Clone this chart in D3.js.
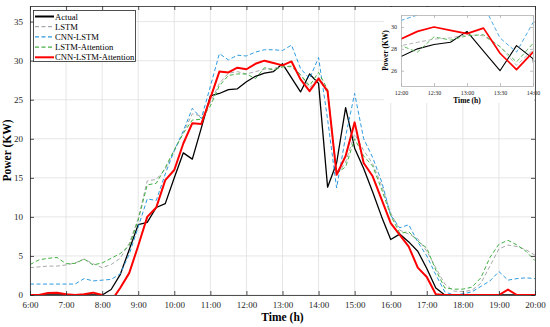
<!DOCTYPE html>
<html>
<head>
<meta charset="utf-8">
<script src="https://cdn.jsdelivr.net/npm/d3@7"></script>
<style>
body{margin:0;background:#fff;}
text{font-family:"Liberation Serif","Times New Roman",serif;}
</style>
</head>
<body>
<svg id="chart" width="550" height="327"></svg>
<script>
// 15 minute samples, 6:00 -> 20:00
var startHour = 6, stepHour = 0.25;

var actual = [0,0,0,0,0,0,0,0,0,0.7,2.6,5.8,9.0,9.3,11.2,11.7,15.0,18.2,17.4,21.4,
  25.5,25.8,26.3,26.4,27.3,28.0,28.4,28.6,29.6,27.8,26.0,28.3,27.1,13.8,16.9,24.0,18.8,16.2,13.2,10.0,
  7.1,7.8,6.8,5.6,3.4,0.9,0,0,0,0,0,0,0,0,0,0,0];
var lstm = [3.5,3.6,3.7,3.7,3.85,4.1,4.6,4.0,3.5,3.9,4.7,6.6,9.8,14.6,14.8,16.1,18.4,20.8,23.2,22.9,
  24.6,27.1,28.4,28.6,28.3,28.6,28.9,29.0,29.3,29.2,28.2,26.5,27.9,25.8,15.3,17.0,20.6,18.5,16.8,14.0,
  10.5,8.3,7.8,7.2,5.6,3.5,1.4,0.5,0.45,0.6,1.5,3.7,5.9,6.4,6.2,5.8,5.1];
var cnnLstm = [1.4,1.4,1.4,1.4,1.4,1.4,2.1,1.8,1.9,2.0,2.7,5.2,8.7,12.3,12.1,15.5,18.5,21.0,23.9,22.6,
  26.7,30.9,30.1,30.7,30.6,31.1,31.4,31.4,31.3,32.0,29.0,27.7,30.4,22.5,13.7,20.3,25.8,20.0,17.6,14.5,
  10.2,8.6,9.0,6.8,5.0,2.6,0.4,0,0.15,0.4,1.1,1.8,3.0,1.9,2.1,2.2,2.1];
var lstmAtt = [3.9,4.5,4.7,4.8,4.0,4.05,4.6,3.85,4.1,4.7,5.3,6.3,9.6,14.1,14.3,16.3,18.6,20.7,22.4,22.5,
  24.2,26.8,28.1,28.3,28.3,27.7,29.1,28.8,29.2,29.3,28.2,26.8,28.5,26.3,15.6,16.4,20.0,17.8,16.5,13.5,
  10.2,7.9,8.1,6.9,6.0,3.2,0.9,0.75,0.75,1.0,2.2,4.8,6.5,7.0,6.4,5.6,4.4];
var cnnLstmAtt = [0,0,0.25,0.3,0.1,0,0.1,0.3,0,-0.8,0.9,2.8,6.3,10.0,11.2,14.7,16.0,19.4,22.0,21.9,
  25.2,28.6,28.5,29.1,28.9,29.6,30.0,29.7,29.4,29.9,27.6,26.1,27.7,26.1,15.4,17.8,22.1,16.9,15.2,12.2,
  9.2,7.7,6.2,3.5,2.3,0.1,0,0,0,0,0,0,0,0.7,0,0,0];

var xTickLabels = ["6:00","7:00","8:00","9:00","10:00","11:00","12:00","13:00","14:00","15:00","16:00","17:00","18:00","19:00","20:00"];
var yTicks = [0,5,10,15,20,25,30,35];
var insetXTickLabels = ["12:00","12:30","13:00","13:30","14:00"];
var insetYTicks = [26,28,30];

var series = [
  {name:"Actual", values:actual, color:"#000000", width:1.3, dash:null},
  {name:"LSTM", values:lstm, color:"#a8a8a8", width:1, dash:"4,2.5"},
  {name:"CNN-LSTM", values:cnnLstm, color:"#2d9be0", width:1, dash:"4,2.5"},
  {name:"LSTM-Attention", values:lstmAtt, color:"#44b045", width:1, dash:"4,2.5"},
  {name:"CNN-LSTM-Attention", values:cnnLstmAtt, color:"#ff0000", width:2, dash:null}
];

function parseHour(s){ var p = s.split(":"); return +p[0] + (+p[1])/60; }

var svg = d3.select("#chart");
var L = 30, R = 535, T = 6, B = 295;

var x = d3.scaleLinear().domain([6, 20]).range([L, R]);
var y = d3.scaleLinear().domain([0, 37]).range([B, T]);

svg.append("defs").append("clipPath").attr("id","clipMain")
  .append("rect").attr("x",L).attr("y",T).attr("width",R-L).attr("height",B-T);

// grid
var grid = svg.append("g");
grid.selectAll("line.vx").data(xTickLabels).enter().append("line")
  .attr("x1",function(d){return x(parseHour(d));}).attr("x2",function(d){return x(parseHour(d));})
  .attr("y1",T).attr("y2",B).attr("stroke","#e0e0e0").attr("stroke-width",0.8);
grid.selectAll("line.hy").data(yTicks).enter().append("line")
  .attr("x1",L).attr("x2",R)
  .attr("y1",function(d){return y(d);}).attr("y2",function(d){return y(d);})
  .attr("stroke","#e0e0e0").attr("stroke-width",0.8);

function drawLines(g, xs, ys, clipId, scaleW){
  var line = d3.line()
    .x(function(d,i){return xs(startHour + i*stepHour);})
    .y(function(d){return ys(d);});
  g.append("g").attr("clip-path","url(#"+clipId+")")
    .selectAll("path").data(series).enter().append("path")
    .attr("d",function(d){return line(d.values);})
    .attr("fill","none")
    .attr("stroke",function(d){return d.color;})
    .attr("stroke-width",function(d){return d.width*scaleW;})
    .attr("stroke-dasharray",function(d){return d.dash;})
    .attr("stroke-linejoin","round");
}
drawLines(svg, x, y, "clipMain", 1);

// axes (box with inward ticks)
var axisColor = "#262626";
var xTickVals = xTickLabels.map(parseHour);
var axB = d3.axisBottom(x).tickValues(xTickVals).tickSizeInner(-4).tickSizeOuter(0)
  .tickFormat(function(d,i){return xTickLabels[i];}).tickPadding(7);
var axT = d3.axisTop(x).tickValues(xTickVals).tickSizeInner(-4).tickSizeOuter(0).tickFormat("");
var axLft = d3.axisLeft(y).tickValues(yTicks).tickSizeInner(-4).tickSizeOuter(0).tickPadding(7);
var axRgt = d3.axisRight(y).tickValues(yTicks).tickSizeInner(-4).tickSizeOuter(0).tickFormat("");

function styleAxis(g, fs){
  g.selectAll("path").attr("stroke",axisColor).attr("stroke-width",0.8);
  g.selectAll("line").attr("stroke",axisColor).attr("stroke-width",0.8);
  g.selectAll("text").attr("fill",axisColor).style("font-size",fs+"px")
    .style("font-family","'Liberation Serif','Times New Roman',serif");
}
styleAxis(svg.append("g").attr("transform","translate(0,"+B+")").call(axB), 9);
styleAxis(svg.append("g").attr("transform","translate(0,"+T+")").call(axT), 9);
styleAxis(svg.append("g").attr("transform","translate("+L+",0)").call(axLft), 9);
styleAxis(svg.append("g").attr("transform","translate("+R+",0)").call(axRgt), 9);

svg.append("text").attr("x",(L+R)/2).attr("y",321).attr("text-anchor","middle")
  .attr("font-weight","bold").attr("font-size",11.5).attr("fill","#000").text("Time (h)");
svg.append("text").attr("transform","translate(11,"+((T+B)/2)+") rotate(-90)")
  .attr("text-anchor","middle").attr("font-weight","bold").attr("font-size",11.5)
  .attr("fill","#000").text("Power (KW)");

// legend
var lg = svg.append("g");
lg.append("rect").attr("x",33.5).attr("y",10.5).attr("width",102).attr("height",51)
  .attr("fill","#fff").attr("stroke",axisColor).attr("stroke-width",0.8);
var row = lg.selectAll("g").data(series).enter().append("g")
  .attr("transform",function(d,i){return "translate(0,"+(16.5+i*10.2)+")";});
row.append("line").attr("x1",35).attr("x2",54).attr("y1",0).attr("y2",0)
  .attr("stroke",function(d){return d.color;})
  .attr("stroke-width",function(d){return d.dash ? 1.2 : 2;})
  .attr("stroke-dasharray",function(d){return d.dash;});
row.append("text").attr("x",55).attr("y",3).attr("font-size",8.6).attr("fill","#000")
  .text(function(d){return d.name;});

// inset
var iL = 401, iR = 533, iT = 15, iB = 86;
svg.append("rect").attr("x",384).attr("y",7).attr("width",150.5).attr("height",96).attr("fill","#fff");
var xi = d3.scaleLinear().domain([12, 14]).range([iL, iR]);
var yi = d3.scaleLinear().domain([24.6, 31.1]).range([iB, iT]);
svg.select("defs").append("clipPath").attr("id","clipInset")
  .append("rect").attr("x",iL).attr("y",iT).attr("width",iR-iL).attr("height",iB-iT);
drawLines(svg, xi, yi, "clipInset", 0.85);

var ixVals = insetXTickLabels.map(parseHour);
var iaxB = d3.axisBottom(xi).tickValues(ixVals).tickSizeInner(-3).tickSizeOuter(0)
  .tickFormat(function(d,i){return insetXTickLabels[i];}).tickPadding(5);
var iaxT = d3.axisTop(xi).tickValues(ixVals).tickSizeInner(-3).tickSizeOuter(0).tickFormat("");
var iaxL = d3.axisLeft(yi).tickValues(insetYTicks).tickSizeInner(-3).tickSizeOuter(0)
  .tickFormat(d3.format("d")).tickPadding(4);
var iaxR = d3.axisRight(yi).tickValues(insetYTicks).tickSizeInner(-3).tickSizeOuter(0).tickFormat("");
function styleInset(g){
  g.selectAll("path").attr("stroke","#b0b0b0").attr("stroke-width",0.8);
  g.selectAll("line").attr("stroke","#b0b0b0").attr("stroke-width",0.8);
  g.selectAll("text").attr("fill",axisColor).style("font-size","6px")
    .style("font-family","'Liberation Serif','Times New Roman',serif");
}
styleInset(svg.append("g").attr("transform","translate(0,"+iB+")").call(iaxB));
styleInset(svg.append("g").attr("transform","translate(0,"+iT+")").call(iaxT));
styleInset(svg.append("g").attr("transform","translate("+iL+",0)").call(iaxL));
styleInset(svg.append("g").attr("transform","translate("+iR+",0)").call(iaxR));
svg.append("text").attr("x",(iL+iR)/2).attr("y",103).attr("text-anchor","middle")
  .attr("font-weight","bold").attr("font-size",7.5).attr("fill","#000").text("Time (h)");
svg.append("text").attr("transform","translate(388,"+((iT+iB)/2)+") rotate(-90)")
  .attr("text-anchor","middle").attr("font-weight","bold").attr("font-size",7.5)
  .attr("fill","#000").text("Power (KW)");
</script>
</body>
</html>
